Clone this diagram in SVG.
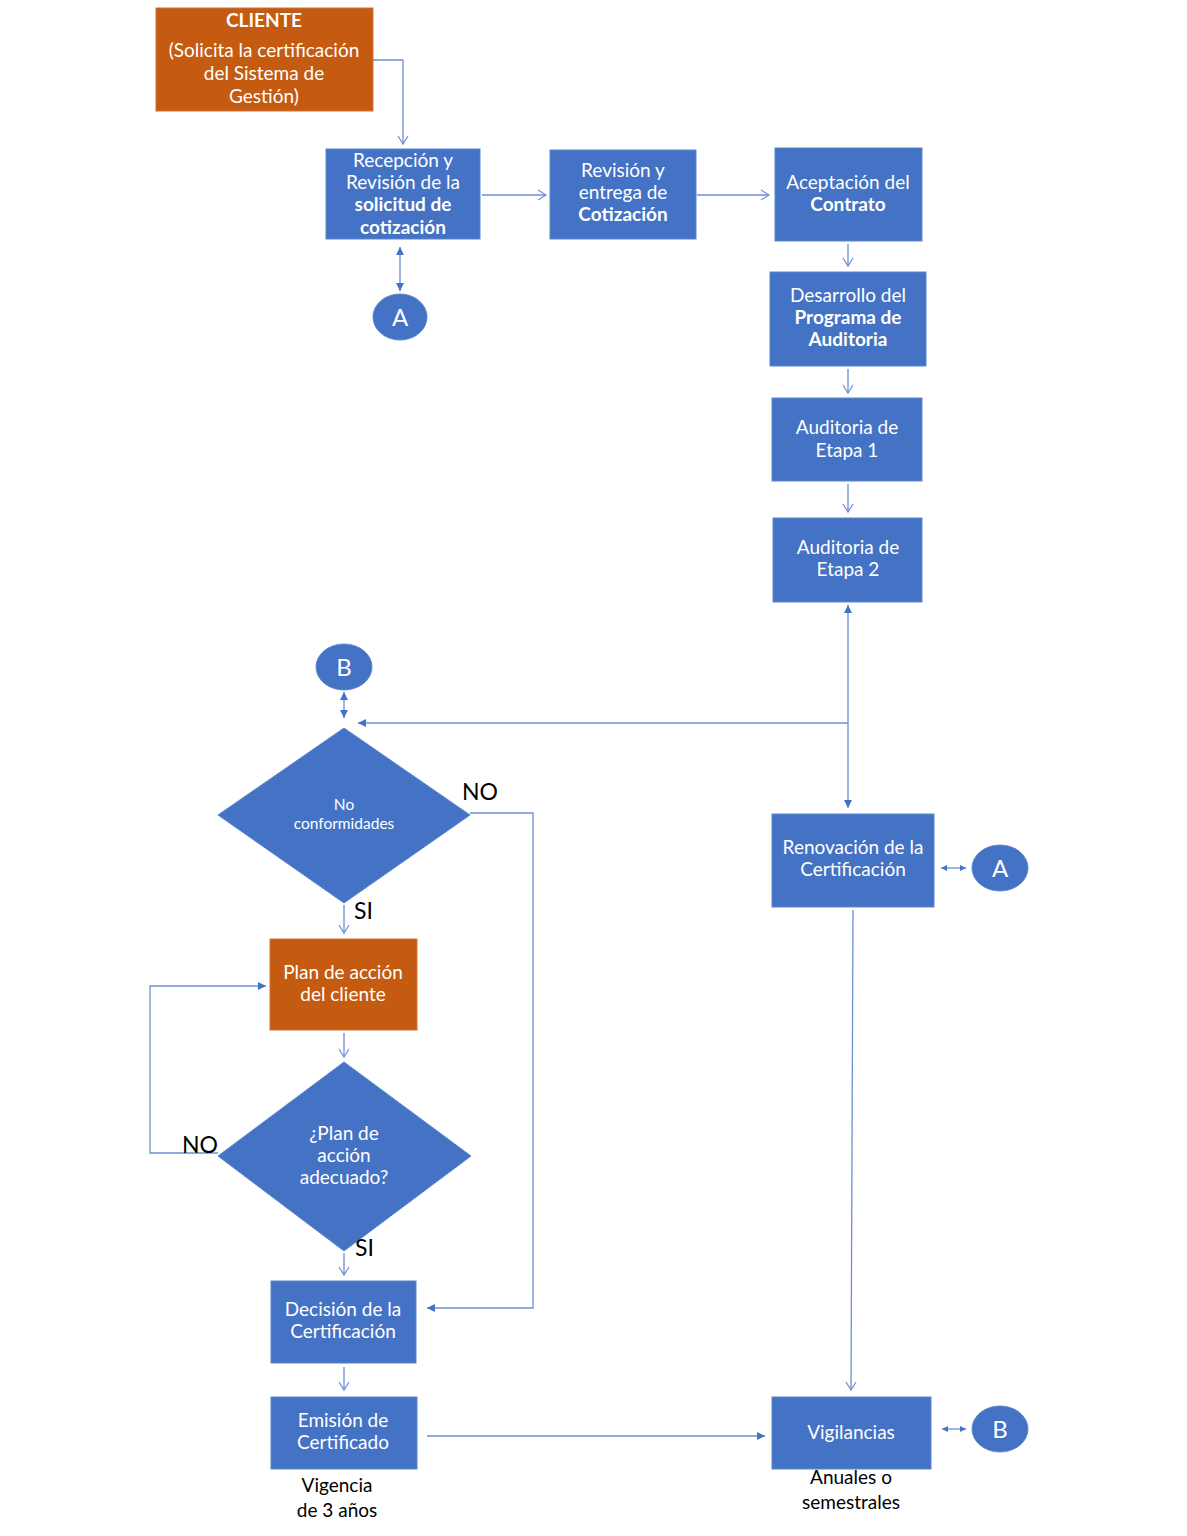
<svg xmlns="http://www.w3.org/2000/svg" width="1187" height="1536" viewBox="0 0 1187 1536">
<style>
.blue{fill:#4472C4;stroke:#5B85CF;stroke-width:1}
.orange{fill:#C55A11;stroke:#D0733A;stroke-width:1}
.t{font-family:Lato,"Open Sans","Liberation Sans",sans-serif;font-size:19px;fill:#fff;text-anchor:middle}
.b{font-weight:bold}
.k{font-family:Lato,"Open Sans","Liberation Sans",sans-serif;font-size:19px;fill:#000;text-anchor:middle}
.lbl{font-family:Lato,"Open Sans","Liberation Sans",sans-serif;font-size:23px;fill:#000}
.c{fill:none;stroke:#6D8FD3;stroke-width:1.3}
.cl{font-size:24px}
</style>
<defs>
<marker id="open" markerWidth="12" markerHeight="12" refX="10" refY="6" orient="auto" markerUnits="userSpaceOnUse">
<path d="M2,1 L10,6 L2,11" fill="none" stroke="#6D8FD3" stroke-width="1.2"/>
</marker>
<marker id="fill" markerWidth="10" markerHeight="10" refX="9" refY="5" orient="auto-start-reverse" markerUnits="userSpaceOnUse">
<path d="M1,1 L9,5 L1,9 Z" fill="#4472C4"/>
</marker>
<marker id="fs" markerWidth="8" markerHeight="8" refX="7" refY="4" orient="auto-start-reverse" markerUnits="userSpaceOnUse">
<path d="M1,1 L7,4 L1,7 Z" fill="#4472C4"/>
</marker>
</defs>

<g id="connectors">
<path class="c" d="M373,60 H403 V144" marker-end="url(#open)"/>
<path class="c" d="M482,195 H546" marker-end="url(#open)"/>
<path class="c" d="M697,195 H769" marker-end="url(#open)"/>
<path class="c" d="M848,244 V266" marker-end="url(#open)"/>
<path class="c" d="M848,369 V393" marker-end="url(#open)"/>
<path class="c" d="M848,484 V512" marker-end="url(#open)"/>
<path class="c" d="M400,247 V291" marker-start="url(#fill)" marker-end="url(#fill)"/>
<path class="c" d="M848,605 V808" marker-start="url(#fill)" marker-end="url(#fill)"/>
<path class="c" d="M848,723 H358" marker-end="url(#fill)"/>
<path class="c" d="M344,692 V718" marker-start="url(#fill)" marker-end="url(#fill)"/>
<path class="c" d="M470,813 H533 V1308 H427" marker-end="url(#fill)"/>
<path class="c" d="M344,905 V933" marker-end="url(#open)"/>
<path class="c" d="M344,1033 V1057" marker-end="url(#open)"/>
<path class="c" d="M218,1153 H150 V986 H266" marker-end="url(#fill)"/>
<path class="c" d="M344,1253 V1275" marker-end="url(#open)"/>
<path class="c" d="M344,1367 V1390" marker-end="url(#open)"/>
<path class="c" d="M427,1436 H765" marker-end="url(#fill)"/>
<path class="c" d="M853,910 L852,1150 L851,1390" marker-end="url(#open)"/>
<path class="c" d="M941,868 H966" marker-start="url(#fs)" marker-end="url(#fs)"/>
<path class="c" d="M942,1429 H966" marker-start="url(#fs)" marker-end="url(#fs)"/>
</g>

<g id="cliente">
<rect class="orange" x="156" y="8" width="217" height="103"/>
<text class="t b" x="264" y="27">CLIENTE</text>
<text class="t" x="264" y="57">(Solicita la certificación</text>
<text class="t" x="264" y="80">del Sistema de</text>
<text class="t" x="264" y="103">Gestión)</text>
</g>

<g id="recepcion">
<rect class="blue" x="326" y="149" width="154" height="90"/>
<text class="t" x="403" y="167">Recepción y</text>
<text class="t" x="403" y="189">Revisión de la</text>
<text class="t b" x="403" y="211">solicitud de</text>
<text class="t b" x="403" y="234">cotización</text>
</g>

<g id="revision">
<rect class="blue" x="550" y="150" width="146" height="89"/>
<text class="t" x="623" y="177">Revisión y</text>
<text class="t" x="623" y="199">entrega de</text>
<text class="t b" x="623" y="221">Cotización</text>
</g>

<g id="aceptacion">
<rect class="blue" x="775" y="148" width="147" height="93"/>
<text class="t" x="848" y="189">Aceptación del</text>
<text class="t b" x="848" y="211">Contrato</text>
</g>

<g id="desarrollo">
<rect class="blue" x="770" y="272" width="156" height="94"/>
<text class="t" x="848" y="302">Desarrollo del</text>
<text class="t b" x="848" y="324">Programa de</text>
<text class="t b" x="848" y="346">Auditoria</text>
</g>

<g id="etapa1">
<rect class="blue" x="772" y="398" width="150" height="83"/>
<text class="t" x="847" y="434">Auditoria de</text>
<text class="t" x="847" y="457">Etapa 1</text>
</g>

<g id="etapa2">
<rect class="blue" x="773" y="518" width="149" height="84"/>
<text class="t" x="848" y="554">Auditoria de</text>
<text class="t" x="848" y="576">Etapa 2</text>
</g>

<g id="circleA1">
<ellipse class="blue" cx="400" cy="317" rx="27" ry="23" stroke="#2F528F"/>
<text class="t cl" x="400" y="326">A</text>
</g>

<g id="circleB1">
<ellipse class="blue" cx="344" cy="667" rx="28" ry="23"/>
<text class="t cl" x="344" y="676">B</text>
</g>

<g id="noconf">
<polygon class="blue" points="344,728 470,815 344,903 218,815"/>
<text class="t" x="344" y="810" style="font-size:15.5px">No</text>
<text class="t" x="344" y="829" style="font-size:15.5px">conformidades</text>
</g>

<g id="plan">
<rect class="orange" x="270" y="939" width="147" height="91"/>
<text class="t" x="343" y="979">Plan de acción</text>
<text class="t" x="343" y="1001">del cliente</text>
</g>

<g id="planok">
<polygon class="blue" points="344,1062 471,1156 344,1251 218,1156"/>
<text class="t" x="344" y="1140">¿Plan de</text>
<text class="t" x="344" y="1162">acción</text>
<text class="t" x="344" y="1184">adecuado?</text>
</g>

<g id="decision">
<rect class="blue" x="271" y="1281" width="145" height="82"/>
<text class="t" x="343" y="1316">Decisión de la</text>
<text class="t" x="343" y="1338">Certificación</text>
</g>

<g id="emision">
<rect class="blue" x="271" y="1397" width="146" height="72"/>
<text class="t" x="343" y="1427">Emisión de</text>
<text class="t" x="343" y="1449">Certificado</text>
</g>

<g id="renovacion">
<rect class="blue" x="772" y="814" width="162" height="93"/>
<text class="t" x="853" y="854">Renovación de la</text>
<text class="t" x="853" y="876">Certificación</text>
</g>

<g id="circleA2">
<ellipse class="blue" cx="1000" cy="868" rx="28" ry="23"/>
<text class="t cl" x="1000" y="877">A</text>
</g>

<g id="vigilancias">
<rect class="blue" x="772" y="1397" width="159" height="72"/>
<text class="t" x="851" y="1439">Vigilancias</text>
</g>

<g id="circleB2">
<ellipse class="blue" cx="1000" cy="1429" rx="28" ry="23"/>
<text class="t cl" x="1000" y="1438">B</text>
</g>

<g id="labels">
<text class="lbl" x="462" y="800">NO</text>
<text class="lbl" x="354" y="919">SI</text>
<text class="lbl" x="182" y="1153">NO</text>
<text class="lbl" x="355" y="1256">SI</text>
<text class="k" x="337" y="1492">Vigencia</text>
<text class="k" x="337" y="1517">de 3 años</text>
<text class="k" x="851" y="1484">Anuales o</text>
<text class="k" x="851" y="1509">semestrales</text>
</g>
</svg>
